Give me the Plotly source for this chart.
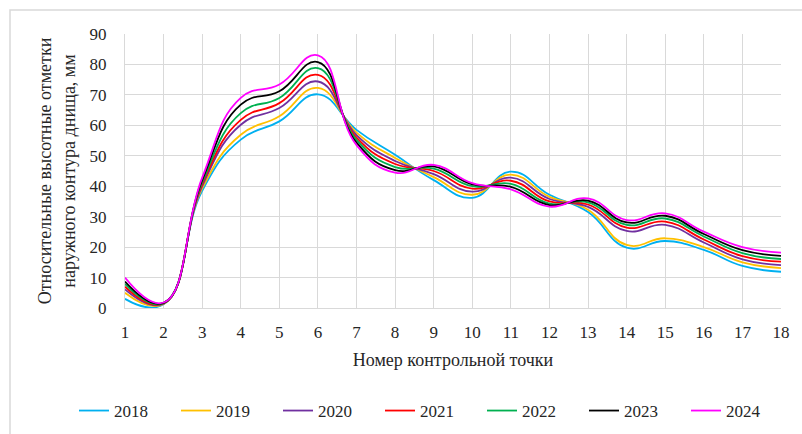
import plotly.graph_objects as go

# Control point numbers along the bottom contour
points = list(range(1, 19))

# Relative elevation marks of the outer bottom contour, mm, per survey year
y2018 = [3.0, 1.2, 38.5, 55.3, 61.3, 70.2, 58.5, 50.3, 42.0, 36.2, 44.8, 37.2, 31.5, 19.8, 22.0, 19.1, 13.8, 11.9]
y2019 = [5.0, 1.3, 39.3, 56.9, 63.0, 72.3, 57.6, 49.3, 43.0, 37.2, 43.8, 36.5, 32.3, 20.7, 22.9, 20.0, 15.0, 13.1]
y2020 = [6.1, 1.4, 40.0, 60.2, 65.7, 74.4, 56.8, 48.3, 44.0, 38.2, 42.8, 35.8, 33.2, 25.3, 27.3, 21.5, 16.0, 14.1]
y2021 = [7.0, 1.5, 40.7, 61.8, 67.3, 76.6, 56.0, 47.3, 45.0, 39.2, 41.8, 35.0, 34.0, 26.4, 28.4, 22.5, 17.0, 15.2]
y2022 = [7.9, 1.6, 41.3, 64.0, 69.0, 78.8, 55.2, 46.3, 45.8, 40.0, 40.8, 34.3, 34.7, 27.3, 29.4, 23.5, 18.0, 16.1]
y2023 = [8.7, 1.7, 42.0, 66.8, 71.2, 80.8, 54.3, 45.3, 46.5, 40.6, 39.8, 33.8, 35.3, 28.1, 30.3, 24.3, 19.0, 17.1]
y2024 = [10.0, 1.8, 42.8, 69.0, 73.4, 83.0, 53.5, 44.5, 47.0, 41.0, 39.0, 33.3, 36.0, 28.9, 31.1, 25.1, 20.0, 18.2]

years = ["2018", "2019", "2020", "2021", "2022", "2023", "2024"]
series = [y2018, y2019, y2020, y2021, y2022, y2023, y2024]
colors = ["#00B0F0", "#FFC000", "#7030A0", "#FF0000", "#00B050", "#000000", "#FF00FF"]

y_ticks = [0, 10, 20, 30, 40, 50, 60, 70, 80, 90]

FONT = "Liberation Serif"
TEXT = "#262626"
GRID = "#d9d9d9"

fig = go.Figure()
for name, vals, col in zip(years, series, colors):
    fig.add_trace(go.Scatter(
        x=points, y=vals, name=name, mode="lines",
        line=dict(color=col, width=1.8, shape="spline", smoothing=1.3),
        hoverinfo="x+y+name",
    ))

W, H = 802, 434
L, R, T, B = 125, 21, 34, 126
pw, ph = W - L - R, H - T - B


def px_x(px):
    return (px - L) / pw


def px_y(py):
    return (H - B - py) / ph


fig.update_layout(
    width=W, height=H,
    margin=dict(l=L, r=R, t=T, b=B, pad=0, autoexpand=False),
    paper_bgcolor="white", plot_bgcolor="white",
    font=dict(family=FONT, size=17, color=TEXT),
    showlegend=True,
    legend=dict(
        orientation="h",
        x=px_x(74), xanchor="left",
        y=px_y(411), yanchor="middle",
        entrywidth=57, entrywidthmode="pixels",
        font=dict(family=FONT, size=17, color=TEXT),
        itemclick=False, itemdoubleclick=False,
        tracegroupgap=0,
    ),
    xaxis=dict(
        range=[1, 18], tickmode="array", tickvals=points,
        ticktext=[str(p) for p in points],
        showgrid=True, gridcolor=GRID, gridwidth=1.3,
        zeroline=False, showline=True, linecolor=GRID, linewidth=1.3,
        ticks="", ticklabelstandoff=8,
        tickfont=dict(family=FONT, size=17, color=TEXT),
        title=dict(text="Номер контрольной точки",
                   font=dict(family=FONT, size=18, color=TEXT), standoff=12),
    ),
    yaxis=dict(
        range=[0, 90], tickmode="array", tickvals=y_ticks,
        showgrid=True, gridcolor=GRID, gridwidth=1.3,
        zeroline=False, showline=True, linecolor=GRID, linewidth=1.3,
        ticks="", ticklabelstandoff=14,
        tickfont=dict(family=FONT, size=17, color=TEXT),
        title=dict(text="Относительные высотные отметки<br>наружного контура днища, мм",
                   font=dict(family=FONT, size=18, color=TEXT), standoff=9),
    ),
)

# Chart-area frame (its right and bottom edges fall outside the page)
fig.add_shape(type="rect", xref="paper", yref="paper",
              x0=px_x(10), x1=px_x(815), y0=px_y(445), y1=px_y(10),
              line=dict(color=GRID, width=1.5), fillcolor="rgba(0,0,0,0)", layer="below")

fig.write_html("out.html")
